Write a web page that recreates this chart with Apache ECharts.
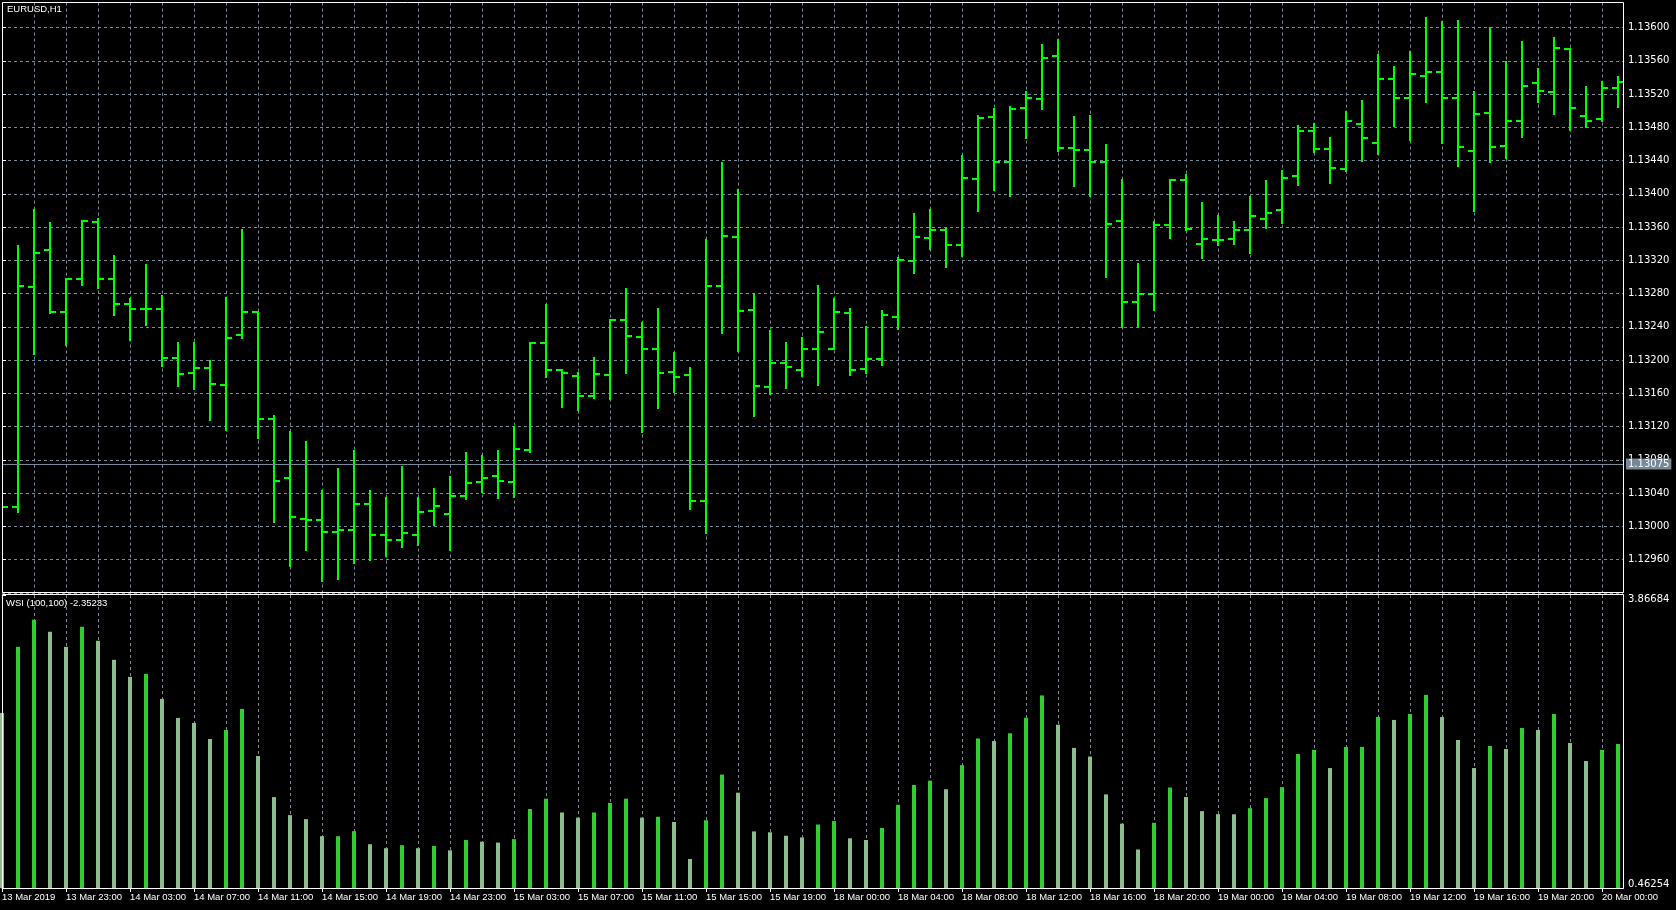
<!DOCTYPE html>
<html>
<head>
<meta charset="utf-8">
<title>EURUSD,H1</title>
<script src="https://cdn.jsdelivr.net/npm/echarts@6/dist/echarts.min.js"></script>
<style>
  html, body { margin: 0; padding: 0; background: #000; }
  #chart { width: 1676px; height: 910px; }
</style>
</head>
<body>
<div id="chart"></div>
<script>
// time axis labels, one every 4 bars (bar 0, 4, 8 ...)
const tickLabels = [
  '13 Mar 2019', '13 Mar 23:00', '14 Mar 03:00', '14 Mar 07:00', '14 Mar 11:00', '14 Mar 15:00',
  '14 Mar 19:00', '14 Mar 23:00', '15 Mar 03:00', '15 Mar 07:00', '15 Mar 11:00', '15 Mar 15:00',
  '15 Mar 19:00', '18 Mar 00:00', '18 Mar 04:00', '18 Mar 08:00', '18 Mar 12:00', '18 Mar 16:00',
  '18 Mar 20:00', '19 Mar 00:00', '19 Mar 04:00', '19 Mar 08:00', '19 Mar 12:00', '19 Mar 16:00',
  '19 Mar 20:00', '20 Mar 00:00'
]

// EURUSD H1 bars
const openP = [
  1.13026, 1.13023, 1.13288, 1.13332, 1.13258, 1.13297, 1.13366, 1.13298, 1.13267, 1.13262,
  1.13262, 1.13203, 1.13185, 1.13191, 1.13170, 1.13230, 1.13258, 1.13129, 1.13058, 1.13009,
  1.13007, 1.12993, 1.12996, 1.13027, 1.12989, 1.12984, 1.12990, 1.13019, 1.13015, 1.13037,
  1.13053, 1.13061, 1.13053, 1.13092, 1.13220, 1.13188, 1.13181, 1.13157, 1.13182, 1.13248,
  1.13228, 1.13213, 1.13186, 1.13182, 1.13030, 1.13289, 1.13348, 1.13260, 1.13168, 1.13197,
  1.13188, 1.13213, 1.13213, 1.13257, 1.13189, 1.13201, 1.13252, 1.13319, 1.13347, 1.13356,
  1.13338, 1.13418, 1.13492, 1.13438, 1.13503, 1.13514, 1.13566, 1.13455, 1.13453, 1.13438,
  1.13367, 1.13270, 1.13280, 1.13363, 1.13416, 1.13340, 1.13345, 1.13346, 1.13356, 1.13370,
  1.13380, 1.13421, 1.13475, 1.13454, 1.13430, 1.13484, 1.13461, 1.13538, 1.13515, 1.13542,
  1.13547, 1.13515, 1.13452, 1.13497, 1.13457, 1.13487, 1.13533, 1.13522, 1.13574, 1.13494,
  1.13490, 1.13527
]
const highP = [
  1.13030, 1.13337, 1.13380, 1.13365, 1.13298, 1.13367, 1.13370, 1.13325, 1.13274, 1.13314,
  1.13277, 1.13220, 1.13221, 1.13199, 1.13275, 1.13356, 1.13258, 1.13133, 1.13113, 1.13102,
  1.13043, 1.13069, 1.13090, 1.13042, 1.13034, 1.13071, 1.13034, 1.13045, 1.13059, 1.13088,
  1.13084, 1.13090, 1.13120, 1.13220, 1.13266, 1.13188, 1.13185, 1.13202, 1.13248, 1.13285,
  1.13244, 1.13261, 1.13208, 1.13191, 1.13345, 1.13437, 1.13405, 1.13280, 1.13235, 1.13220,
  1.13226, 1.13289, 1.13273, 1.13261, 1.13240, 1.13259, 1.13323, 1.13376, 1.13381, 1.13359,
  1.13446, 1.13494, 1.13502, 1.13504, 1.13522, 1.13579, 1.13585, 1.13492, 1.13493, 1.13459,
  1.13417, 1.13316, 1.13366, 1.13416, 1.13423, 1.13389, 1.13373, 1.13366, 1.13396, 1.13415,
  1.13427, 1.13482, 1.13484, 1.13467, 1.13498, 1.13512, 1.13567, 1.13552, 1.13571, 1.13611,
  1.13607, 1.13608, 1.13522, 1.13599, 1.13559, 1.13583, 1.13550, 1.13587, 1.13574, 1.13528,
  1.13534, 1.13540
]
const lowP = [
  1.13018, 1.13017, 1.13207, 1.13257, 1.13218, 1.13290, 1.13287, 1.13254, 1.13224, 1.13242,
  1.13193, 1.13169, 1.13165, 1.13128, 1.13116, 1.13227, 1.13106, 1.13005, 1.12952, 1.12971,
  1.12934, 1.12937, 1.12956, 1.12960, 1.12964, 1.12975, 1.12978, 1.13002, 1.12972, 1.13033,
  1.13041, 1.13034, 1.13035, 1.13089, 1.13180, 1.13144, 1.13140, 1.13154, 1.13153, 1.13184,
  1.13113, 1.13142, 1.13162, 1.13021, 1.12992, 1.13232, 1.13211, 1.13133, 1.13159, 1.13166,
  1.13181, 1.13170, 1.13213, 1.13182, 1.13184, 1.13194, 1.13237, 1.13305, 1.13334, 1.13312,
  1.13325, 1.13379, 1.13405, 1.13397, 1.13467, 1.13502, 1.13451, 1.13409, 1.13397, 1.13300,
  1.13240, 1.13240, 1.13260, 1.13347, 1.13357, 1.13323, 1.13338, 1.13340, 1.13329, 1.13359,
  1.13365, 1.13410, 1.13450, 1.13413, 1.13428, 1.13439, 1.13448, 1.13482, 1.13465, 1.13511,
  1.13461, 1.13434, 1.13379, 1.13438, 1.13443, 1.13468, 1.13510, 1.13496, 1.13477, 1.13480,
  1.13487, 1.13505
]
const closeP = [
  1.13023, 1.13289, 1.13329, 1.13258, 1.13298, 1.13367, 1.13298, 1.13267, 1.13262, 1.13262,
  1.13203, 1.13183, 1.13191, 1.13171, 1.13227, 1.13258, 1.13129, 1.13055, 1.13011, 1.13007,
  1.12993, 1.12995, 1.13027, 1.12989, 1.12983, 1.12992, 1.13017, 1.13025, 1.13037, 1.13052,
  1.13058, 1.13054, 1.13093, 1.13220, 1.13188, 1.13185, 1.13157, 1.13183, 1.13248, 1.13229,
  1.13213, 1.13185, 1.13180, 1.13030, 1.13289, 1.13349, 1.13259, 1.13169, 1.13197, 1.13192,
  1.13213, 1.13234, 1.13258, 1.13188, 1.13201, 1.13254, 1.13320, 1.13348, 1.13356, 1.13338,
  1.13419, 1.13491, 1.13438, 1.13502, 1.13515, 1.13563, 1.13455, 1.13453, 1.13438, 1.13364,
  1.13270, 1.13280, 1.13362, 1.13416, 1.13358, 1.13346, 1.13344, 1.13356, 1.13373, 1.13377,
  1.13419, 1.13475, 1.13454, 1.13431, 1.13487, 1.13467, 1.13538, 1.13515, 1.13544, 1.13546,
  1.13515, 1.13456, 1.13496, 1.13456, 1.13487, 1.13530, 1.13524, 1.13575, 1.13503, 1.13487,
  1.13527, 1.13535
]
const priceLine = 1.13075

// WSI (100,100) indicator
const wsi = [
  2.4966, 3.2650, 3.5794, 3.4397, 3.2650, 3.4979, 3.3349, 3.1137, 2.9158, 2.9507,
  2.6596, 2.4384, 2.3802, 2.1939, 2.2987, 2.5432, 1.9959, 1.5186, 1.3090, 1.2624,
  1.0645, 1.0645, 1.1227, 0.9713, 0.9248, 0.9597, 0.9248, 0.9500, 0.9000, 1.0200,
  1.0000, 0.9900, 1.0300, 1.3800, 1.5000, 1.3400, 1.2800, 1.3400, 1.4500, 1.5000,
  1.2800, 1.2900, 1.2300, 0.8000, 1.2500, 1.7800, 1.5700, 1.1200, 1.1100, 1.0700,
  1.0500, 1.2000, 1.2400, 1.0400, 1.0200, 1.1600, 1.4300, 1.6600, 1.7100, 1.6100,
  1.8900, 2.2000, 2.1700, 2.2600, 2.4400, 2.7000, 2.3600, 2.0900, 1.9900, 1.5500,
  1.2100, 0.9100, 1.2200, 1.6300, 1.5200, 1.3556, 1.3207, 1.3190, 1.3905, 1.5069,
  1.6350, 2.0192, 2.0658, 1.8562, 2.1007, 2.1020, 2.4500, 2.4151, 2.4849, 2.7062,
  2.4500, 2.1822, 1.8562, 2.1124, 2.0775, 2.3219, 2.2987, 2.4849, 2.1473, 1.9377,
  2.0658, 2.1356
]
const wsiMin = 0.46254
const wsiMax = 3.86684

const GRID = '#778899'
const BAR = '#00ff00'
const UP = '#32cd32'
const DOWN = '#8fbc8f'
const X_MAX = 1621 / 16

const ohlc = openP.map((o, i) => [i, o, highP[i], lowP[i], closeP[i]])
const wsiData = wsi.map((v, i) => ({
  value: [i, v],
  itemStyle: { color: i > 0 && v >= wsi[i - 1] ? UP : DOWN },
}))

const dashed = { show: true, lineStyle: { color: GRID, type: [3, 3], width: 1 } }
const hidden = { show: false }

function renderOhlc(params, api) {
  const i = api.value(0)
  const pO = api.coord([i, api.value(1)])
  const pH = api.coord([i, api.value(2)])
  const pL = api.coord([i, api.value(3)])
  const pC = api.coord([i, api.value(4)])
  const x = Math.round(pH[0])
  const st = { stroke: BAR, lineWidth: 2 }
  return {
    type: 'group',
    children: [
      { type: 'line', shape: { x1: x, y1: Math.round(pH[1]) - 1, x2: x, y2: Math.round(pL[1]) + 1 }, style: st },
      { type: 'line', shape: { x1: x - 6, y1: Math.round(pO[1]), x2: x, y2: Math.round(pO[1]) }, style: st },
      { type: 'line', shape: { x1: x, y1: Math.round(pC[1]), x2: x + 6, y2: Math.round(pC[1]) }, style: st },
    ],
  }
}

const chart = echarts.init(document.getElementById('chart'))
chart.setOption({
  backgroundColor: '#000',
  animation: false,
  grid: [
    { left: 2, top: 2.6, width: 1621, height: 590.2, outerBoundsMode: 'none' },
    { left: 2, top: 595, width: 1621, height: 293, outerBoundsMode: 'none' },
  ],
  xAxis: [
    {
      gridIndex: 0, type: 'value', min: 0, max: X_MAX, interval: 2,
      axisLine: hidden, axisTick: hidden, axisLabel: hidden, splitLine: dashed,
    },
    {
      gridIndex: 1, type: 'value', min: 0, max: X_MAX, interval: 2,
      axisLine: hidden, axisTick: hidden, axisLabel: hidden, splitLine: dashed,
    },
    {
      gridIndex: 1, type: 'value', min: 0, max: X_MAX, interval: 4, position: 'bottom',
      axisLine: { show: true, lineStyle: { color: '#fff', width: 1 } },
      axisTick: { show: true, length: 4, lineStyle: { color: '#fff' } },
      axisLabel: {
        color: '#fff', fontFamily: 'Liberation Sans', fontSize: 9.5, align: 'left', margin: 4,
        showMaxLabel: false,
        formatter: (v) => tickLabels[v / 4] || '',
      },
      splitLine: hidden,
    },
  ],
  yAxis: [
    {
      gridIndex: 0, type: 'value', position: 'right', min: 1.1292, max: 1.1363, interval: 0.0004,
      axisLine: hidden,
      axisTick: { show: true, length: 4, lineStyle: { color: '#fff' } },
      axisLabel: {
        color: '#fff', fontFamily: 'DejaVu Sans', fontSize: 10, margin: 5,
        showMinLabel: false, showMaxLabel: false,
        formatter: (v) => v.toFixed(5),
      },
      splitLine: dashed,
    },
    {
      gridIndex: 1, type: 'value', position: 'right', min: wsiMin, max: wsiMax, interval: wsiMax - wsiMin,
      axisLine: hidden,
      axisTick: { show: true, length: 4, lineStyle: { color: '#fff' } },
      axisLabel: {
        color: '#fff', fontFamily: 'DejaVu Sans', fontSize: 10, margin: 5,
        formatter: (v) => (v > 2 ? '{t|' : '{b|') + v.toFixed(5) + '}',
        rich: {
          t: { color: '#fff', fontFamily: 'DejaVu Sans', fontSize: 10, padding: [8, 0, 0, 0] },
          b: { color: '#fff', fontFamily: 'DejaVu Sans', fontSize: 10, padding: [0, 0, 8, 0] },
        },
      },
      splitLine: hidden,
    },
  ],
  series: [
    {
      // horizontal price line with its label on the price scale
      type: 'line',
      name: 'price',
      xAxisIndex: 0,
      yAxisIndex: 0,
      data: [],
      markLine: {
        silent: true,
        symbol: 'none',
        precision: 5,
        lineStyle: { color: GRID, type: 'solid', width: 1 },
        label: {
          position: 'end', distance: 3, formatter: priceLine.toFixed(5),
          color: '#fff', backgroundColor: GRID, padding: [1, 2, 0, 2],
          fontFamily: 'DejaVu Sans', fontSize: 10,
        },
        data: [{ yAxis: priceLine }],
      },
    },
    {
      type: 'custom',
      name: 'EURUSD,H1',
      xAxisIndex: 0,
      yAxisIndex: 0,
      clip: true,
      z: 3,
      data: ohlc,
      renderItem: renderOhlc,
    },
    {
      type: 'bar',
      name: 'WSI',
      xAxisIndex: 1,
      yAxisIndex: 1,
      barWidth: 4,
      clip: true,
      data: wsiData,
    },
  ],
  graphic: [
    {
      type: 'rect', silent: true, z: 100,
      shape: { x: 2.5, y: 2.5, width: 1621, height: 590 },
      style: { fill: null, stroke: '#fff', lineWidth: 1 },
    },
    {
      type: 'rect', silent: true, z: 100,
      shape: { x: 2.5, y: 594.5, width: 1621, height: 294 },
      style: { fill: null, stroke: '#fff', lineWidth: 1 },
    },
    {
      type: 'text', left: 7, top: 4, z: 100,
      style: { text: 'EURUSD,H1', fill: '#fff', font: '9.5px "Liberation Sans"' },
    },
    {
      type: 'text', left: 6, top: 598, z: 100,
      style: { text: 'WSI (100,100) -2.35233', fill: '#fff', font: '9.5px "Liberation Sans"' },
    },
  ],
})
</script>
</body>
</html>
